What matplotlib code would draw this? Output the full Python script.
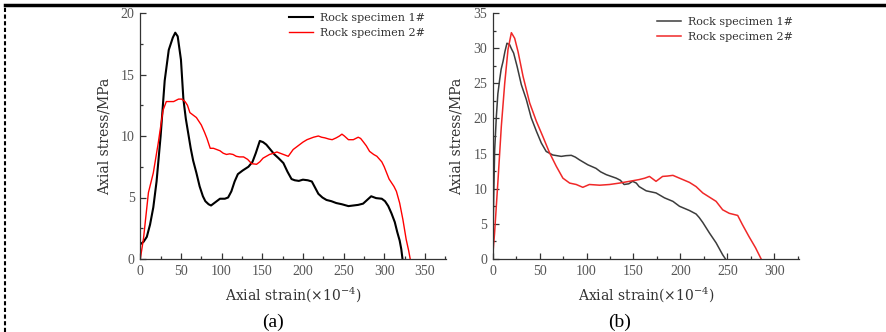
import matplotlib
matplotlib.use('Agg')
import matplotlib.pyplot as plt
from matplotlib.lines import Line2D
from matplotlib.ticker import MultipleLocator

# (a) stress-strain, strain in 1e-4, stress in MPa
a1_strain = [0, 4, 8, 12, 16, 20, 25, 30, 35, 40, 43, 46, 50, 53, 56, 59, 62, 65, 69, 73,
             77, 80, 84, 87, 92, 98, 104, 108, 112, 116, 120, 126, 133, 138, 142, 147, 151,
             155, 160, 165, 170, 176, 181, 186, 190, 195, 200, 206, 211, 215, 219, 224, 229,
             235, 241, 248, 256, 262, 268, 274, 279, 284, 290, 297, 301, 305, 309, 313, 316,
             319, 321, 322.5]
a1_stress = [1.2, 1.4, 1.8, 2.8, 4.2, 6.3, 10.0, 14.5, 17.0, 18.0, 18.4, 18.1, 16.2, 13.0,
             11.4, 10.2, 9.0, 8.0, 7.0, 5.9, 5.1, 4.7, 4.45, 4.35, 4.6, 4.9, 4.9, 5.0, 5.5,
             6.3, 6.9, 7.2, 7.5, 7.9, 8.6, 9.6, 9.5, 9.3, 8.9, 8.5, 8.2, 7.8, 7.1, 6.5, 6.4,
             6.35, 6.45, 6.4, 6.3, 5.8, 5.3, 5.0, 4.8, 4.7, 4.55, 4.45, 4.3, 4.35, 4.4, 4.5,
             4.8, 5.1, 4.95, 4.9, 4.7, 4.3, 3.7, 3.0, 2.2, 1.5, 0.8, 0.0]
a2_strain = [0, 4, 10, 16, 22, 28, 32, 36, 41, 47, 51, 55, 58, 61, 65, 69, 75, 79, 82, 86,
             90, 94, 98, 102, 106, 110, 114, 118, 122, 127, 132, 137, 143, 147, 151, 155,
             159, 164, 168, 172, 176, 182, 188, 192, 196, 200, 205, 209, 213, 219, 223, 227,
             232, 236, 241, 245, 248, 251, 256, 262, 268, 271, 274, 278, 282, 287, 291, 297,
             300, 303, 306, 309, 312, 315, 319, 323, 327, 330, 332]
a2_stress = [0.0, 1.7, 5.4, 7.0, 9.4, 12.1, 12.8, 12.8, 12.8, 13.0, 13.0, 12.8, 12.5, 11.9,
             11.7, 11.5, 10.9, 10.3, 9.8, 9.0, 9.0, 8.9, 8.8, 8.6, 8.5, 8.55, 8.5, 8.35,
             8.3, 8.3, 8.1, 7.75, 7.7, 7.9, 8.2, 8.35, 8.5, 8.6, 8.7, 8.6, 8.5, 8.35, 8.9,
             9.1, 9.3, 9.5, 9.7, 9.8, 9.9, 10.0, 9.9, 9.85, 9.75, 9.7, 9.85, 10.0, 10.15,
             10.0, 9.7, 9.7, 9.9, 9.8, 9.55, 9.2, 8.75, 8.5, 8.35, 7.9, 7.5, 7.0, 6.5, 6.2,
             5.9, 5.5, 4.55, 3.2, 1.6, 0.7, 0.0]

# (b)
b1_strain = [0, 1, 2.1, 3.9, 5.5, 7.4, 9, 11, 13, 15.2, 18, 20, 22.3, 26, 30.5, 35.8, 41,
             46.5, 51.8, 57, 64, 73, 78, 83.7, 88, 92.5, 101.4, 110, 115, 121, 131.6, 136,
             140, 145, 149, 153, 156, 163.5, 174, 183, 192, 199, 209.6, 216.7, 220, 223.8,
             230.9, 238, 245, 248]
b1_stress = [0.4, 8.4, 15.5, 20.3, 23.5, 25.5, 27.0, 28.1, 29.5, 30.7, 30.5, 29.9, 29.3,
             27.4, 24.8, 22.7, 20.1, 18.2, 16.5, 15.3, 14.8, 14.6, 14.7, 14.75, 14.5, 14.1,
             13.4, 12.9, 12.4, 12.0, 11.5, 11.2, 10.6, 10.7, 11.05, 10.8, 10.3, 9.7, 9.4,
             8.7, 8.2, 7.5, 6.9, 6.4, 5.9, 5.2, 3.7, 2.3, 0.6, 0.0]
b2_strain = [0, 2, 5.7, 9.2, 12.8, 16.3, 19.9, 23.4, 27, 32.3, 39.4, 46.5, 53.5, 60.6, 67.7,
             74.8, 82, 89, 96, 103, 114, 124.5, 135, 145.7, 156, 162, 167, 174, 181, 186,
             192, 199, 209.6, 216.7, 223.8, 230.9, 238, 245, 252, 261, 266, 273, 280, 286]
b2_stress = [0.4, 3.7, 11.3, 18.9, 25.0, 29.8, 32.2, 31.4, 29.5, 26.0, 22.2, 19.6, 17.4,
             15.1, 13.2, 11.5, 10.8, 10.6, 10.2, 10.6, 10.5, 10.6, 10.8, 11.05, 11.3, 11.5,
             11.75, 11.05, 11.75, 11.8, 11.9, 11.5, 10.9, 10.3, 9.4, 8.8, 8.2, 7.0, 6.5,
             6.2, 4.9, 3.2, 1.6, 0.0]

labels = ['Rock specimen 1#', 'Rock specimen 2#']

plt.rcParams['mathtext.fontset'] = 'dejavuserif'
label_font = {'family': 'DejaVu Serif', 'size': 10, 'color': '#333333'}
tick_font = 'Liberation Serif'

fig = plt.figure(figsize=(8.86, 3.32), dpi=100)
W, H = 886.0, 332.0


def make_axes(x0, x1, xmax, ymax, ymajor):
    ax = fig.add_axes([x0 / W, (H - 259) / H, (x1 - x0) / W, (259 - 13) / H])
    ax.set_xlim(0, xmax)
    ax.set_ylim(0, ymax)
    for s in ['top', 'right']:
        ax.spines[s].set_visible(False)
    for s in ['left', 'bottom']:
        ax.spines[s].set_color('#333333')
        ax.spines[s].set_linewidth(0.9)
    ax.xaxis.set_major_locator(MultipleLocator(50))
    ax.xaxis.set_minor_locator(MultipleLocator(25))
    ax.yaxis.set_major_locator(MultipleLocator(ymajor))
    ax.yaxis.set_minor_locator(MultipleLocator(ymajor / 2))
    ax.tick_params(which='both', direction='in', color='#333333', width=0.9)
    ax.tick_params(which='major', length=4.5, labelsize=10, labelcolor='#555555', pad=4)
    ax.tick_params(which='minor', length=2.5)
    for t in ax.get_xticklabels() + ax.get_yticklabels():
        t.set_family(tick_font)
    ax.set_xlabel(r'Axial strain(×10$^{-4}$)', fontdict=label_font)
    ax.set_ylabel('Axial stress/MPa', fontdict=label_font)
    return ax


ax1 = make_axes(140.3, 446, 376, 20, 5)
ax1.plot(a1_strain, a1_stress, color='black', lw=1.5, label=labels[0])
ax1.plot(a2_strain, a2_stress, color='#ff0000', lw=1.0, label=labels[1])
ax1.xaxis.set_label_coords(0.5, -0.105)
ax1.yaxis.set_label_coords(-0.095, 0.5)
ax1.legend(loc='upper left', bbox_to_anchor=((289 - 140.3) / 305.7, 1.0), frameon=False,
           borderpad=0, borderaxespad=0, handlelength=2.2, handletextpad=0.6,
           labelspacing=0.45, prop={'family': 'DejaVu Serif', 'size': 8}, labelcolor='#333333')

ax2 = make_axes(492.7, 798.7, 326, 35, 5)
ax2.plot(b1_strain, b1_stress, color='#3c3c3c', lw=1.1, label=labels[0])
ax2.plot(b2_strain, b2_stress, color='#f02828', lw=1.1, label=labels[1])
ax2.xaxis.set_label_coords(0.5, -0.105)
ax2.yaxis.set_label_coords(-0.095, 0.5)
ax2.legend(loc='upper left', bbox_to_anchor=((657 - 492.7) / 306, 0.985), frameon=False,
           borderpad=0, borderaxespad=0, handlelength=2.2, handletextpad=0.6,
           labelspacing=0.45, prop={'family': 'DejaVu Serif', 'size': 8}, labelcolor='#333333')

fig.text(273 / W, 1 - 322 / H, '(a)', ha='center', va='center',
         family='Liberation Serif', size=14)
fig.text(620 / W, 1 - 322 / H, '(b)', ha='center', va='center',
         family='Liberation Serif', size=14)

# page frame: thick rule at top, dashed edge at left
fig.add_artist(Line2D([5 / W, 1], [1 - 5 / H, 1 - 5 / H], color='black', lw=2.5))
fig.add_artist(Line2D([5 / W, 5 / W], [0, 1 - 5 / H], color='black', lw=1.5,
                      linestyle=(0, (2, 1.2))))

fig.savefig('out.png', dpi=100)
